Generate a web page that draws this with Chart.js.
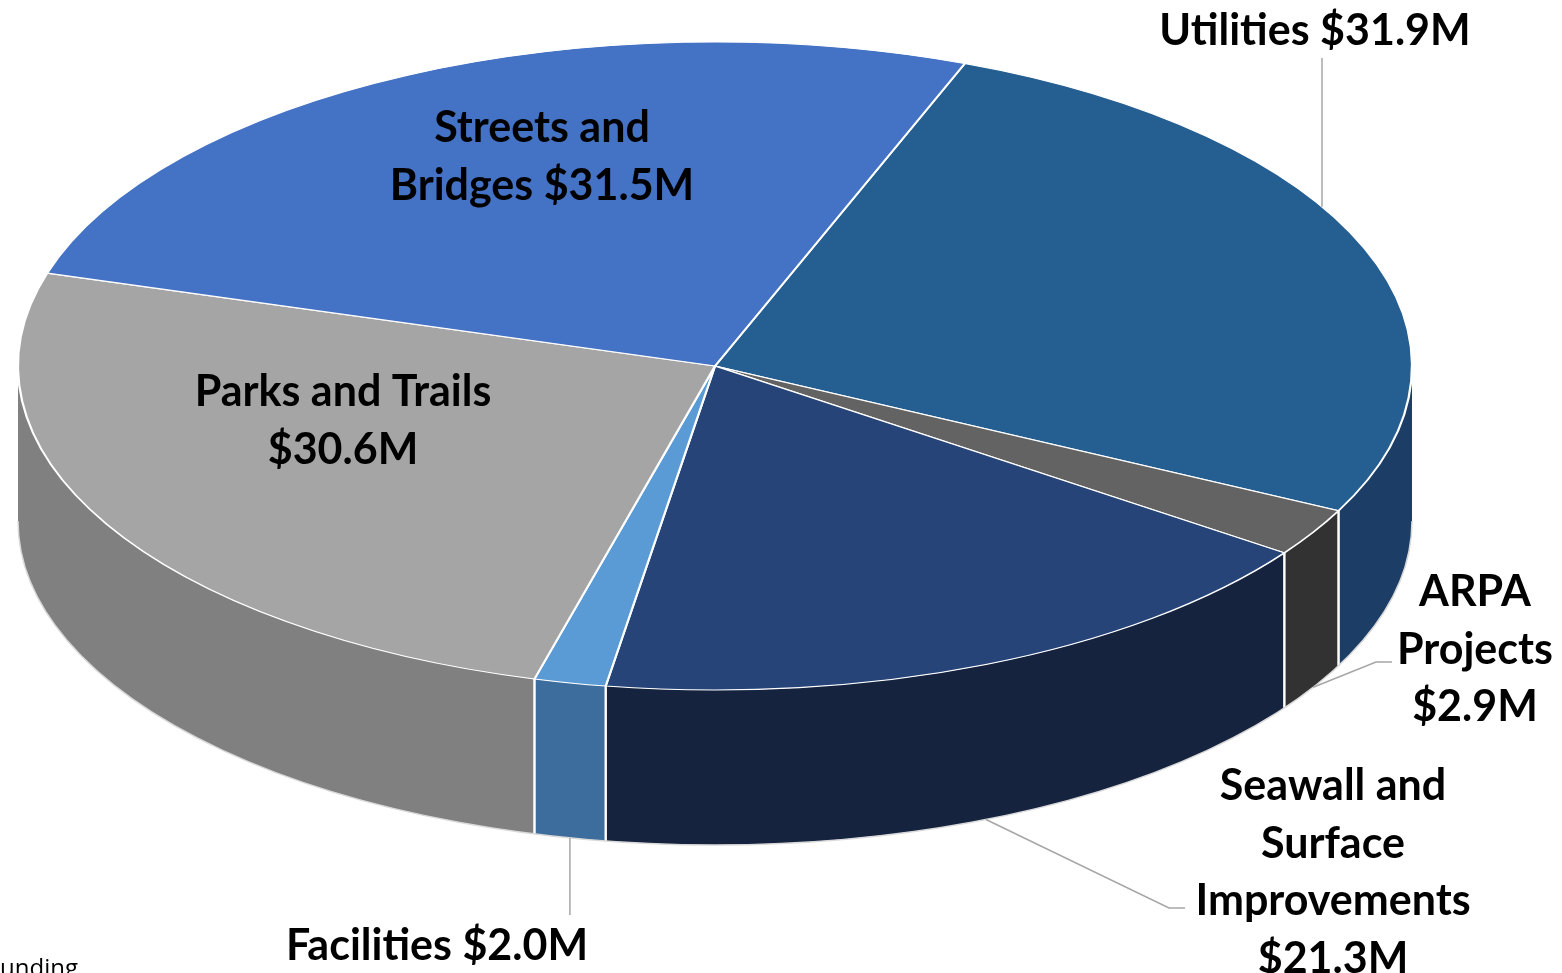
<!DOCTYPE html>
<html>
<head>
<meta charset="utf-8">
<script src="https://cdn.jsdelivr.net/npm/chart.js@4.4.1/dist/chart.umd.min.js"></script>
<style>
html, body { margin: 0; padding: 0; background: #fff; overflow: hidden; }
#contenedor { position: relative; width: 1562px; height: 973px; }
</style>
</head>
<body>
<div id="contenedor"><canvas id="grafico"></canvas></div>
<script>
// Datos del gráfico (millones de dólares), en el sentido de las agujas del reloj
const categorias = ['Utilities', 'ARPA Projects', 'Seawall and Surface Improvements', 'Facilities', 'Parks and Trails', 'Streets and Bridges'];
const montos = [31.9, 2.9, 21.3, 2.0, 30.6, 31.5];
const etiquetas = [
    ['Utilities $31.9M'],
    ['ARPA', 'Projects', '$2.9M'],
    ['Seawall and', 'Surface', 'Improvements', '$21.3M'],
    ['Facilities $2.0M'],
    ['Parks and Trails', '$30.6M'],
    ['Streets and', 'Bridges $31.5M']
];
const coloresCara = ['#255e91', '#636363', '#264478', '#5b9bd5', '#a5a5a5', '#4472c4'];
const coloresLado = ['#1c3e66', '#323232', '#15233f', '#3d6d9c', '#808080', '#2f5597'];

// Geometría del pastel inclinado (elipse de la cara superior y altura del lateral)
const PASTEL = { cx: 715, cy: 366, rx: 697, ry: 324, alto: 155 };

// Posición de los textos: centro x, línea base de la primera línea, y guía
const posEtiquetas = [
    { x: 1315, y: 45, guia: 'arriba', gx: 1322, gy: 58 },
    { x: 1475, y: 606, guia: 'lado', gx: 1392, gy: 662 },
    { x: 1333, y: 800, guia: 'lado', gx: 1185, gy: 908 },
    { x: 437, y: 960, guia: 'abajo', gy: 915 },
    { x: 343, y: 406 },
    { x: 542, y: 142 }
];
const altoLinea = 57.5;

function puntoElipse(t, desplazamiento) {
    return {
        x: PASTEL.cx + PASTEL.rx * Math.cos(t),
        y: PASTEL.cy + desplazamiento + PASTEL.ry * Math.sin(t)
    };
}

// Dibuja las paredes laterales visibles (mitad frontal) de cada porción
function dibujarLados(ctx, arcos) {
    const { cx, cy, rx, ry, alto } = PASTEL;
    const bordes = [];
    arcos.forEach((arco, i) => {
        const { startAngle, endAngle } = arco.getProps(['startAngle', 'endAngle'], true);
        for (let k = -1; k <= 1; k++) {
            const base = 2 * Math.PI * k;
            const a = Math.max(startAngle, base);
            const b = Math.min(endAngle, base + Math.PI);
            if (b <= a) continue;
            const t1 = a - base, t2 = b - base;
            ctx.beginPath();
            ctx.ellipse(cx, cy, rx, ry, 0, t1, t2);
            ctx.ellipse(cx, cy + alto, rx, ry, 0, t2, t1, true);
            ctx.closePath();
            ctx.fillStyle = coloresLado[i];
            ctx.fill();
            if (t1 > 0.001) bordes.push(t1);
            if (t2 < Math.PI - 0.001) bordes.push(t2);
        }
    });

    // líneas blancas entre porciones
    ctx.strokeStyle = '#ffffff';
    ctx.lineWidth = 2;
    bordes.forEach(t => {
        const p1 = puntoElipse(t, 0);
        const p2 = puntoElipse(t, alto);
        ctx.beginPath();
        ctx.moveTo(p1.x, p1.y);
        ctx.lineTo(p2.x, p2.y);
        ctx.stroke();
    });

    // contorno inferior
    ctx.strokeStyle = '#d9d9d9';
    ctx.lineWidth = 1.5;
    ctx.beginPath();
    ctx.ellipse(cx, cy + alto, rx, ry, 0, 0, Math.PI);
    ctx.stroke();
}

function dibujarEtiquetas(ctx, arcos) {
    ctx.save();
    ctx.strokeStyle = '#a6a6a6';
    ctx.lineWidth = 1.5;
    posEtiquetas.forEach((pos, i) => {
        if (!pos.guia) return;
        const { startAngle, endAngle } = arcos[i].getProps(['startAngle', 'endAngle'], true);
        const medio = (startAngle + endAngle) / 2;
        ctx.beginPath();
        if (pos.guia === 'arriba') {
            const u = (pos.gx - PASTEL.cx) / PASTEL.rx;
            const yBorde = PASTEL.cy - PASTEL.ry * Math.sqrt(1 - u * u);
            ctx.moveTo(pos.gx, pos.gy);
            ctx.lineTo(pos.gx, yBorde);
        } else if (pos.guia === 'lado') {
            const p = puntoElipse(medio, PASTEL.alto);
            ctx.moveTo(p.x, p.y);
            ctx.lineTo(pos.gx - 16, pos.gy);
            ctx.lineTo(pos.gx, pos.gy);
        } else if (pos.guia === 'abajo') {
            const p = puntoElipse(medio, PASTEL.alto);
            ctx.moveTo(p.x, p.y);
            ctx.lineTo(p.x, pos.gy);
        }
        ctx.stroke();
    });

    ctx.fillStyle = '#000000';
    ctx.font = 'bold 43px Lato';
    ctx.textAlign = 'center';
    ctx.textBaseline = 'alphabetic';
    etiquetas.forEach((lineas, i) => {
        const pos = posEtiquetas[i];
        lineas.forEach((linea, j) => {
            ctx.fillText(linea, pos.x, pos.y + j * altoLinea);
        });
    });

    // nota al pie, cortada por el borde izquierdo
    ctx.font = '24px "Open Sans"';
    ctx.textAlign = 'right';
    ctx.fillText('Totals may not add due to rounding', 78, 976);
    ctx.restore();
}

// Plugin para inclinar el pastel y darle volumen
const pastel3D = {
    id: 'pastel3D',
    beforeDatasetsDraw(chart) {
        const ctx = chart.ctx;
        const arcos = chart.getDatasetMeta(0).data;
        dibujarLados(ctx, arcos);
        const { x, y, outerRadius } = arcos[0].getProps(['x', 'y', 'outerRadius'], true);
        ctx.save();
        ctx.translate(PASTEL.cx, PASTEL.cy);
        ctx.scale(PASTEL.rx / outerRadius, PASTEL.ry / outerRadius);
        ctx.translate(-x, -y);
    },
    afterDatasetsDraw(chart) {
        chart.ctx.restore();
    },
    afterDraw(chart) {
        dibujarEtiquetas(chart.ctx, chart.getDatasetMeta(0).data);
    }
};

document.addEventListener('DOMContentLoaded', () => {
    const canvas = document.getElementById('grafico');
    new Chart(canvas, {
        type: 'pie',
        data: {
            labels: categorias,
            datasets: [{
                data: montos,
                backgroundColor: coloresCara,
                borderColor: '#ffffff',
                borderWidth: 1.6,
                clip: false
            }]
        },
        options: {
            responsive: true,
            maintainAspectRatio: false,
            animation: false,
            events: [],
            rotation: 21,
            layout: { padding: 0 },
            plugins: {
                legend: { display: false },
                tooltip: { enabled: false },
                title: { display: false }
            }
        },
        plugins: [pastel3D]
    });
});
</script>
</body>
</html>
